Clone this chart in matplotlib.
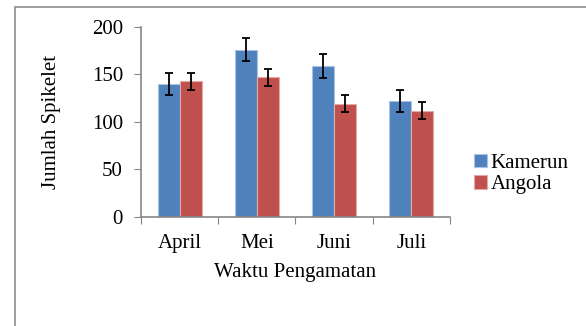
#!/usr/bin/env python3

import numpy as np
import matplotlib.pyplot as plt
from matplotlib.patches import Rectangle

months = ["April", "Mei", "Juni", "Juli"]
kamerun = [140, 176, 159, 122]
kamerun_err = [12, 12, 12.5, 12]
angola = [143, 147, 119, 112]
angola_err = [9, 9, 9, 9]

plt.rcParams['font.family'] = ['Liberation Serif', 'DejaVu Serif']
fs = 15

fig = plt.figure(figsize=(5.86, 3.26), dpi=100)
ax = fig.add_axes([0.2406, 0.3344, 0.5273, 0.5828])

# outer chart frame (runs off the right and bottom edges)
fig.patches.append(Rectangle((15 / 586, -0.1), 2, 1 - 7 / 326 + 0.1,
                             transform=fig.transFigure, fill=False,
                             edgecolor='#8c8c8c', linewidth=1.2))

x = np.arange(len(months))
w = 2 / 7
err_kw = dict(ecolor='black', elinewidth=1.3, capsize=3.2, capthick=1.3)
ax.bar(x - w / 2, kamerun, w, yerr=kamerun_err, color='#4F81BD',
       edgecolor='#a9c3e6', linewidth=0.8, label='Kamerun', error_kw=err_kw)
ax.bar(x + w / 2, angola, w, yerr=angola_err, color='#C0504D',
       edgecolor='#e6a9a7', linewidth=0.8, label='Angola', error_kw=err_kw)

ax.set_xlim(-0.5, len(months) - 0.5)
ax.set_ylim(0, 200)
ax.set_yticks([0, 50, 100, 150, 200])
ax.set_xticks(np.arange(len(months) + 1) - 0.5, minor=False)
ax.set_xticklabels([])
ax.set_xticks(x, minor=True)
ax.set_xticklabels(months, minor=True)
ax.tick_params(axis='x', which='minor', length=0, labelsize=fs, pad=12)
ax.tick_params(axis='x', which='major', length=5, color='#868686')
ax.tick_params(axis='y', length=5, color='#868686', labelsize=fs, pad=8)

for s in ['top', 'right']:
    ax.spines[s].set_visible(False)
for s in ['left', 'bottom']:
    ax.spines[s].set_color('#868686')
    ax.spines[s].set_linewidth(1.2)

ax.set_xlabel("Waktu Pengamatan", fontsize=fs, va='center')
ax.xaxis.set_label_coords(0.5, (217 - 273) / 190)
ax.set_ylabel("Jumlah Spikelet", fontsize=fs, va='center')
ax.yaxis.set_label_coords((52 - 141) / 309, 0.5)

fig.legend(loc='center left', bbox_to_anchor=(464 / 586, 1 - 174 / 326),
           frameon=False, fontsize=fs, handlelength=0.62, handleheight=0.62,
           handletextpad=0.15, labelspacing=0.1, borderpad=0)

plt.savefig("out.png", dpi=100)
